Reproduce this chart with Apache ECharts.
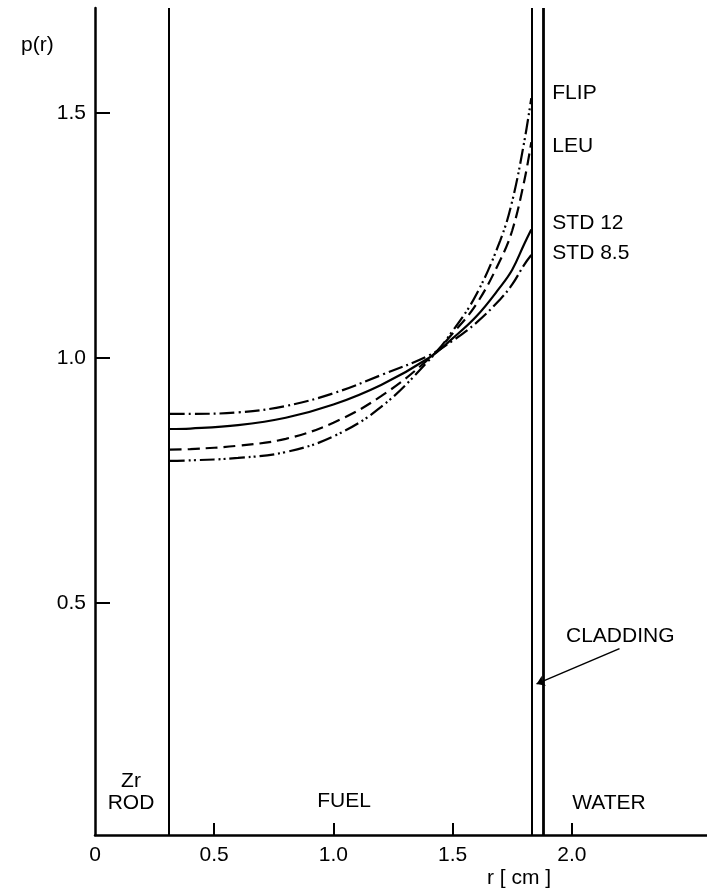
<!DOCTYPE html>
<html>
<head>
<meta charset="utf-8">
<script src="https://cdn.jsdelivr.net/npm/echarts@6/dist/echarts.min.js"></script>
<style>
  html, body { margin: 0; padding: 0; background: #fff; }
  #chart { width: 707px; height: 893px; }
</style>
</head>
<body>
<div id="chart"></div>
<script>
// Radial power density profile across a TRIGA fuel element
const radius = [0.313, 0.4, 0.6, 0.8, 1.0, 1.2, 1.4, 1.5, 1.6, 1.7, 1.75, 1.8, 1.83];
const std85  = [0.886, 0.886, 0.889, 0.902, 0.928, 0.965, 1.005, 1.035, 1.072, 1.12, 1.15, 1.19, 1.21];
const std12  = [0.855, 0.856, 0.863, 0.878, 0.905, 0.945, 1.000, 1.040, 1.085, 1.145, 1.18, 1.232, 1.262];
const leu    = [0.813, 0.814, 0.821, 0.835, 0.868, 0.922, 0.998, 1.050, 1.110, 1.200, 1.26, 1.36, 1.44];
const flip   = [0.790, 0.791, 0.796, 0.808, 0.840, 0.900, 0.995, 1.055, 1.130, 1.240, 1.32, 1.44, 1.53];

// Material boundaries [cm]: Zr rod surface, cladding inner and outer surfaces
const boundaries = [0.313, 1.83, 1.882];
const xTickValues = [0.5, 1.0, 1.5, 2.0];
const xLabelValues = [0, 0.5, 1.0, 1.5, 2.0];
const yTickValues = [0.5, 1.0, 1.5];

const FONT = '"Liberation Sans", Arial, sans-serif';
const INK = '#000';
const FS = 21;

function pairs(ys) { return radius.map((r, i) => [r, ys[i]]); }

function profile(name, ys, dash, labelOffsetY) {
  return {
    name: name,
    type: 'line',
    data: pairs(ys),
    smooth: 0.4,
    symbol: 'none',
    lineStyle: { color: INK, width: 2.2, type: dash },
    endLabel: {
      show: true,
      formatter: name,
      distance: 21,
      offset: [0, labelOffsetY],
      color: INK,
      fontFamily: FONT,
      fontSize: FS
    },
    silent: true
  };
}

const chart = echarts.init(document.getElementById('chart'), null, { renderer: 'canvas' });

chart.setOption({
  animation: false,
  backgroundColor: '#fff',
  grid: { left: 95, right: 0, top: 8, bottom: 58, containLabel: false },
  xAxis: {
    type: 'value',
    min: 0,
    max: 2.567,
    axisLine: { show: true, lineStyle: { color: INK, width: 2.5 } },
    axisTick: { show: true, inside: true, length: 12, customValues: xTickValues, lineStyle: { color: INK, width: 2 } },
    axisLabel: {
      customValues: xLabelValues,
      formatter: v => (v === 0 ? '0' : v.toFixed(1)),
      color: INK, fontFamily: FONT, fontSize: FS, margin: 10
    },
    splitLine: { show: false }
  },
  yAxis: {
    type: 'value',
    min: 0.0267,
    max: 1.714,
    axisLine: { show: true, lineStyle: { color: INK, width: 2.5 } },
    axisTick: { show: true, inside: true, length: 15, customValues: yTickValues, lineStyle: { color: INK, width: 2 } },
    axisLabel: {
      customValues: yTickValues,
      formatter: v => v.toFixed(1),
      color: INK, fontFamily: FONT, fontSize: FS, margin: 9
    },
    splitLine: { show: false }
  },
  series: [
    profile('FLIP', flip, [15, 4, 2, 3, 2, 4], -5),
    profile('LEU', leu, [12, 6], 4),
    profile('STD 12', std12, 'solid', -6),
    profile('STD 8.5', std85, [15, 4, 2, 4], -2),
    {
      // region boundaries and the cladding pointer
      type: 'line',
      data: [],
      silent: true,
      markLine: {
        silent: true,
        symbol: 'none',
        animation: false,
        label: { show: false },
        lineStyle: { color: INK, width: 2, type: 'solid' },
        data: [
          { xAxis: boundaries[0] },
          { xAxis: boundaries[1] },
          { xAxis: boundaries[2], lineStyle: { width: 2.8 } },
          [
            { coord: [2.2, 0.407], symbol: 'none' },
            { coord: [1.852, 0.335], symbol: 'arrow', symbolSize: 8, lineStyle: { width: 1.5 } }
          ]
        ]
      }
    }
  ],
  graphic: [
    { type: 'text', left: 21, top: 35, style: { text: 'p(r)', fontFamily: FONT, fontSize: FS, fill: INK } },
    { type: 'text', x: 131, y: 781, style: { text: 'Zr', fontFamily: FONT, fontSize: FS, fill: INK, align: 'center', verticalAlign: 'middle' } },
    { type: 'text', x: 131, y: 803, style: { text: 'ROD', fontFamily: FONT, fontSize: FS, fill: INK, align: 'center', verticalAlign: 'middle' } },
    { type: 'text', x: 344, y: 801, style: { text: 'FUEL', fontFamily: FONT, fontSize: FS, fill: INK, align: 'center', verticalAlign: 'middle' } },
    { type: 'text', x: 609, y: 803, style: { text: 'WATER', fontFamily: FONT, fontSize: FS, fill: INK, align: 'center', verticalAlign: 'middle' } },
    { type: 'text', x: 566, y: 636, style: { text: 'CLADDING', fontFamily: FONT, fontSize: FS, fill: INK, align: 'left', verticalAlign: 'middle' } },
    { type: 'text', x: 519, y: 878, style: { text: 'r [ cm ]', fontFamily: FONT, fontSize: FS, fill: INK, align: 'center', verticalAlign: 'middle' } }
  ]
});
</script>
</body>
</html>
